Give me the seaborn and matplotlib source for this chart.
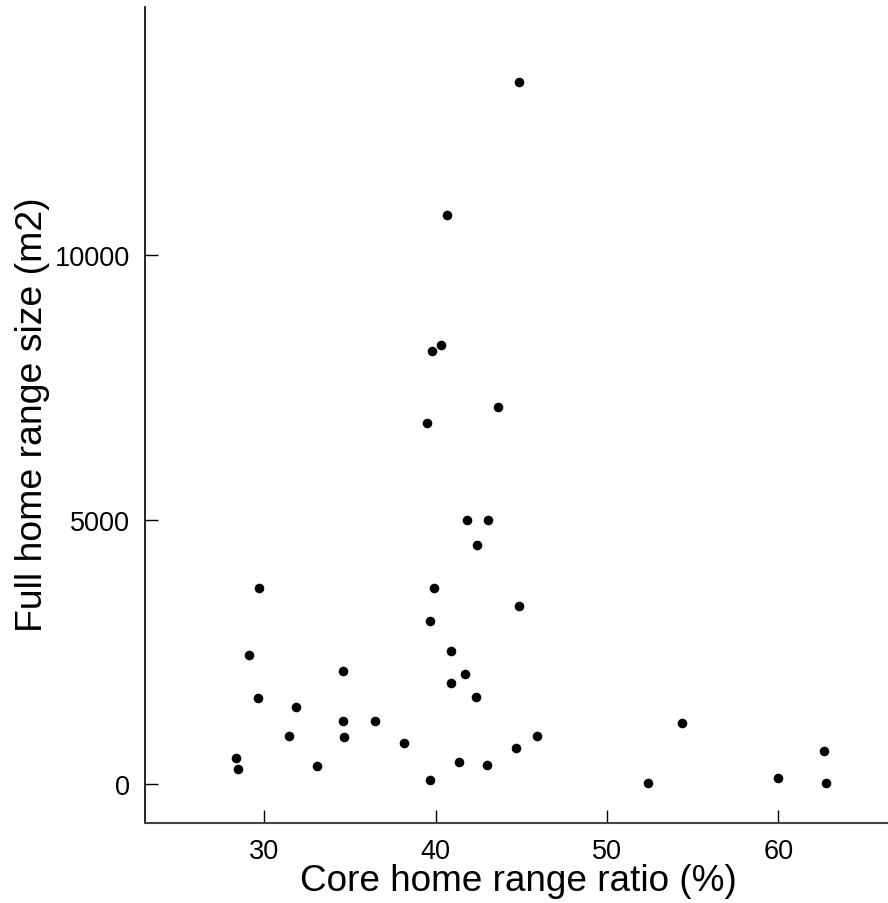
import matplotlib
matplotlib.use("Agg")
import matplotlib.pyplot as plt
import numpy as np
import pandas as pd
import seaborn as sns

# core home range ratio (%) and full home range size (m2)
core_ratio = [
    44.87, 40.67, 40.32, 39.79, 43.64, 39.50, 41.83, 43.06, 42.42, 29.69,
    39.91, 44.87, 39.67, 40.90, 29.11, 34.60, 41.72, 40.90, 42.36, 29.63,
    31.85, 34.60, 36.47, 54.38, 31.44, 45.92, 34.65, 38.15, 44.69, 62.67,
    28.35, 28.46, 41.37, 33.07, 42.99, 39.67, 52.42, 60.00, 62.81,
]
full_size = [
    13275, 10762, 8306, 8193, 7135, 6826, 4993, 4993, 4521, 3707,
    3707, 3375, 3084, 2517, 2441, 2139, 2083, 1913, 1648, 1629,
    1459, 1194, 1194, 1157, 913, 913, 894, 781, 687, 629,
    498, 290, 422, 346, 365, 81, 25, 125, 19,
]
x_ticks = [30, 40, 50, 60]
y_ticks = [0, 5000, 10000]

sns.set_style("ticks")
plt.rcParams["font.family"] = ["Liberation Sans", "DejaVu Sans"]
plt.rcParams["text.color"] = "black"
plt.rcParams["axes.labelcolor"] = "black"

df = pd.DataFrame({"ratio": core_ratio, "size": full_size})

fig = plt.figure(figsize=(8.88, 9.04), dpi=100)
ax = fig.add_axes([0.1633, 0.0885, 0.8367, 0.9027])
sns.scatterplot(data=df, x="ratio", y="size", ax=ax, color="black",
                marker="o", s=48, linewidth=0)

ax.set_xlim(23.04, 66.4)
ax.set_ylim(-731, 14688)
ax.set_xticks(x_ticks)
ax.set_yticks(y_ticks)
ax.tick_params(direction="in", length=9.6, width=1, labelsize=19.5,
               colors="black", pad=10.5)
for side in ["top", "right"]:
    ax.spines[side].set_visible(False)
ax.spines["left"].set_color("black")
ax.spines["bottom"].set_color("#444444")
ax.spines["left"].set_linewidth(1.2)
ax.spines["bottom"].set_linewidth(1.5)

ax.set_xlabel("Core home range ratio (%)", fontsize=26.6)
ax.set_ylabel("Full home range size (m2)", fontsize=26.9)
ax.xaxis.set_label_coords(0.503, -0.0495)
ax.yaxis.set_label_coords(-0.128, 0.502)

fig.savefig("out.png", dpi=100)
